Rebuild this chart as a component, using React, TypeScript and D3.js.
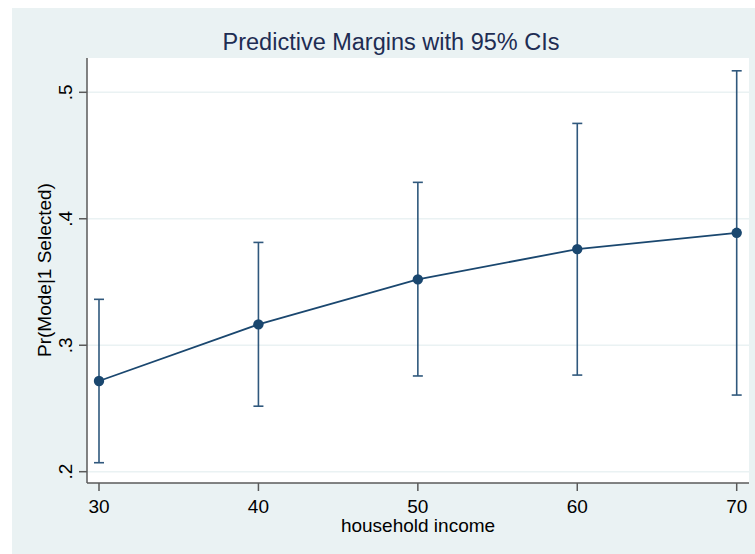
import React from "react";
import * as d3 from "d3";

const incomes = [30, 40, 50, 60, 70];
const margins = [0.2717, 0.3165, 0.3521, 0.376, 0.3889];
const ciLower = [0.2071, 0.2518, 0.2757, 0.2764, 0.2606];
const ciUpper = [0.3363, 0.3813, 0.4288, 0.4754, 0.517];
const yTicks = [0.2, 0.3, 0.4, 0.5];
const yTickLabels = [".2", ".3", ".4", ".5"];
const xTicks = [30, 40, 50, 60, 70];

const W = 755;
const H = 554;
const NAVY = "#1a476f";
const BG = "#eaf2f3";
const FONT = "'Liberation Sans', Arial, sans-serif";

export default function App() {
  const plot = { left: 87, right: 749, top: 58, bottom: 483 };
  const x = d3.scaleLinear().domain([30, 70]).range([99, 736.7]);
  const y = d3.scaleLinear().domain([0.2, 0.5]).range([471.7, 92.3]);
  const line = d3
    .line<number>()
    .x((_, i) => x(incomes[i]))
    .y((d) => y(d));

  return (
    <svg
      width={W}
      height={H}
      style={{ position: "absolute", left: 0, top: 0, display: "block" }}
      fontFamily={FONT}
    >
      <rect x={0} y={0} width={W} height={H} fill="#ffffff" />
      <rect x={12} y={8} width={W - 12} height={H - 8} fill={BG} />
      <rect
        x={plot.left}
        y={plot.top}
        width={plot.right - plot.left}
        height={plot.bottom - plot.top}
        fill="#ffffff"
      />
      {/* gridlines */}
      {yTicks.map((t) => (
        <line
          key={"g" + t}
          x1={plot.left}
          x2={plot.right}
          y1={y(t)}
          y2={y(t)}
          stroke={BG}
          strokeWidth={1.6}
        />
      ))}
      {/* title */}
      <text
        x={391}
        y={50}
        textAnchor="middle"
        fontSize={23.5}
        fill="#1e2d53"
      >
        Predictive Margins with 95% CIs
      </text>
      {/* y axis */}
      <line
        x1={plot.left}
        x2={plot.left}
        y1={plot.top}
        y2={plot.bottom}
        stroke="#5a5a5a"
        strokeWidth={1.5}
      />
      {yTicks.map((t, i) => (
        <g key={"yt" + t}>
          <line
            x1={79}
            x2={plot.left}
            y1={y(t)}
            y2={y(t)}
            stroke="#5a5a5a"
            strokeWidth={1.5}
          />
          <text
            transform={`translate(72,${y(t)}) rotate(-90)`}
            textAnchor="middle"
            fontSize={19}
            fill="#000"
          >
            {yTickLabels[i]}
          </text>
        </g>
      ))}
      <text
        transform={`translate(51,270) rotate(-90)`}
        textAnchor="middle"
        fontSize={19}
        fill="#000"
      >
        Pr(Mode|1 Selected)
      </text>
      {/* x axis */}
      <line
        x1={plot.left}
        x2={plot.right}
        y1={plot.bottom}
        y2={plot.bottom}
        stroke="#5a5a5a"
        strokeWidth={1.5}
      />
      {xTicks.map((t) => (
        <g key={"xt" + t}>
          <line
            x1={x(t)}
            x2={x(t)}
            y1={plot.bottom}
            y2={491}
            stroke="#5a5a5a"
            strokeWidth={1.5}
          />
          <text
            x={x(t)}
            y={512.5}
            textAnchor="middle"
            fontSize={19}
            fill="#000"
          >
            {t}
          </text>
        </g>
      ))}
      <text
        x={418}
        y={531.5}
        textAnchor="middle"
        fontSize={19}
        fill="#000"
      >
        household income
      </text>
      {/* error bars */}
      {incomes.map((v, i) => (
        <g key={"ci" + v} stroke={NAVY} strokeWidth={1.6} opacity={0.9}>
          <line x1={x(v)} x2={x(v)} y1={y(ciLower[i])} y2={y(ciUpper[i])} />
          <line x1={x(v) - 5} x2={x(v) + 5} y1={y(ciLower[i])} y2={y(ciLower[i])} />
          <line x1={x(v) - 5} x2={x(v) + 5} y1={y(ciUpper[i])} y2={y(ciUpper[i])} />
        </g>
      ))}
      {/* line */}
      <path d={line(margins) || ""} fill="none" stroke={NAVY} strokeWidth={1.8} />
      {margins.map((m, i) => (
        <circle key={"p" + i} cx={x(incomes[i])} cy={y(m)} r={5.2} fill={NAVY} />
      ))}
    </svg>
  );
}
